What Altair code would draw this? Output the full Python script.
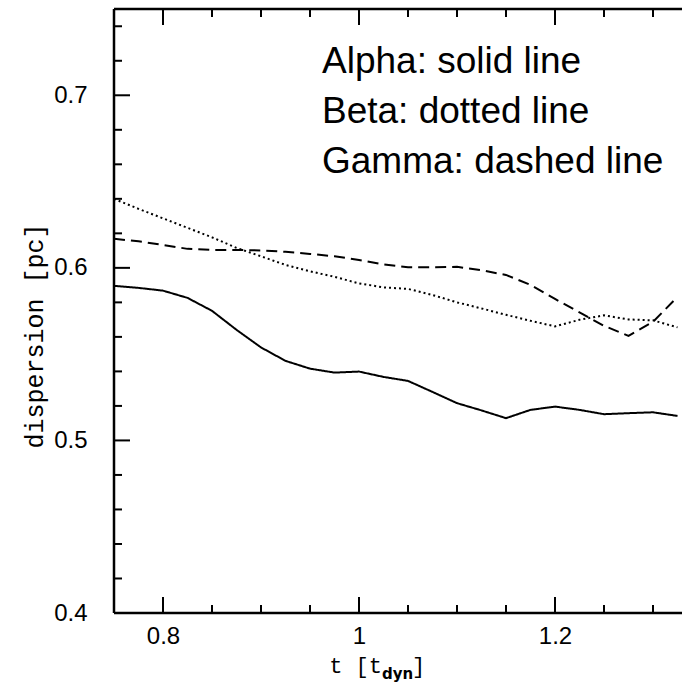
import altair as alt
import pandas as pd

# ---- data ----
T = [0.75, 0.775, 0.8, 0.825, 0.85, 0.875, 0.9, 0.925, 0.95, 0.975, 1.0, 1.025,
     1.05, 1.075, 1.1, 1.125, 1.15, 1.175, 1.2, 1.225, 1.25, 1.275, 1.3, 1.325]
ALPHA = [0.5896, 0.5884, 0.5868, 0.5826, 0.5751, 0.5641, 0.5539, 0.5461, 0.5416, 0.5393,
         0.5399, 0.5368, 0.5345, 0.5281, 0.5216, 0.5174, 0.5129, 0.5177, 0.5196, 0.5177,
         0.5152, 0.5158, 0.5163, 0.5142]
BETA = [0.6400, 0.6342, 0.6287, 0.6232, 0.6177, 0.6116, 0.6067, 0.6017, 0.5980, 0.5948,
        0.5910, 0.5887, 0.5878, 0.5843, 0.5800, 0.5765, 0.5728, 0.5693, 0.5661, 0.5699,
        0.5725, 0.5701, 0.5696, 0.5655]
GAMMA = [0.6168, 0.6154, 0.6133, 0.6110, 0.6104, 0.6104, 0.6101, 0.6093, 0.6081, 0.6067,
         0.6046, 0.6020, 0.6003, 0.6003, 0.6006, 0.5986, 0.5959, 0.5901, 0.5820, 0.5742,
         0.5664, 0.5606, 0.5687, 0.5832]
SERIES = ["Alpha", "Beta", "Gamma"]
LEGEND = ["Alpha: solid line", "Beta: dotted line", "Gamma: dashed line"]

X_MAJOR = [0.8, 1.0, 1.2]
X_MINOR = [0.85, 0.9, 0.95, 1.05, 1.1, 1.15, 1.25, 1.3]
Y_MAJOR = [0.4, 0.5, 0.6, 0.7]
Y_MINOR = [0.42, 0.44, 0.46, 0.48, 0.52, 0.54, 0.56, 0.58, 0.62, 0.64, 0.66, 0.68,
           0.72, 0.74]

W, H = 568, 604
MAJ, MIN = 16, 8

rows = []
for name, vals in zip(SERIES, [ALPHA, BETA, GAMMA]):
    for t, v in zip(T, vals):
        rows.append({"t": t, "v": v, "series": name})
df = pd.DataFrame(rows)

xs = alt.Scale(domain=[0.75, 0.75 + W / 980], nice=False, zero=False)
ys = alt.Scale(domain=[0.4, 0.75], nice=False, zero=False)

LABEL_FONT = "Liberation Sans"
TITLE_FONT = "Liberation Mono"

lines = alt.Chart(df).mark_line(color="black", strokeWidth=2, clip=True).encode(
    x=alt.X("t:Q", scale=xs,
            axis=alt.Axis(values=X_MAJOR, format="~g", ticks=False, domain=False,
                          grid=False, labelFont=LABEL_FONT, labelFontSize=24,
                          labelColor="black", labelPadding=11, title=None)),
    y=alt.Y("v:Q", scale=ys,
            axis=alt.Axis(values=Y_MAJOR, format=".1f", ticks=False, domain=False,
                          grid=False, labelFont=LABEL_FONT, labelFontSize=24,
                          labelColor="black", labelPadding=27, title=None)),
    strokeDash=alt.StrokeDash("series:N",
                              scale=alt.Scale(domain=SERIES,
                                              range=[[1, 0], [2, 3], [11, 6]]),
                              legend=None),
    detail="series:N",
)


def xticks(vals, y0, y1):
    return alt.Chart(pd.DataFrame({"t": vals})).mark_rule(
        color="black", strokeWidth=2).encode(
        x=alt.X("t:Q", scale=xs, axis=None), y=alt.value(y0), y2=alt.value(y1))


def yticks(vals, x0, x1):
    return alt.Chart(pd.DataFrame({"v": vals})).mark_rule(
        color="black", strokeWidth=2).encode(
        y=alt.Y("v:Q", scale=ys, axis=None), x=alt.value(x0), x2=alt.value(x1))


one = pd.DataFrame({"a": [0]})
frame_left = alt.Chart(one).mark_rule(color="black", strokeWidth=2.5).encode(
    x=alt.value(0), y=alt.value(0), y2=alt.value(H))
frame_bottom = alt.Chart(one).mark_rule(color="black", strokeWidth=2.5).encode(
    x=alt.value(0), x2=alt.value(W), y=alt.value(H))
frame_top = alt.Chart(one).mark_rule(color="black", strokeWidth=2.5).encode(
    x=alt.value(0), x2=alt.value(W), y=alt.value(0))

LEGEND_Y = [64, 114, 164]
legend_layers = [
    alt.Chart(one).mark_text(
        text=lab, align="left", baseline="alphabetic", font="Liberation Sans",
        fontSize=37, color="black").encode(x=alt.value(208), y=alt.value(yy))
    for lab, yy in zip(LEGEND, LEGEND_Y)
]

ytitle = alt.Chart(one).mark_text(
    text="dispersion [pc]", angle=270, align="center", baseline="middle",
    font=TITLE_FONT, fontSize=25, color="black").encode(
    x=alt.value(-79), y=alt.value(327))

xt_main = alt.Chart(one).mark_text(
    text="t [t", align="right", baseline="alphabetic",
    font=TITLE_FONT, fontSize=22, color="black").encode(
    x=alt.value(268), y=alt.value(664))
xt_sub = alt.Chart(one).mark_text(
    text="dyn", align="left", baseline="alphabetic",
    font="DejaVu Sans", fontSize=15, fontWeight="bold", color="black").encode(
    x=alt.value(268), y=alt.value(670))
xt_end = alt.Chart(one).mark_text(
    text="]", align="left", baseline="alphabetic",
    font=TITLE_FONT, fontSize=22, color="black").encode(
    x=alt.value(298), y=alt.value(664))

chart = alt.layer(
    lines,
    xticks(X_MAJOR, H, H - MAJ), xticks(X_MINOR, H, H - MIN),
    xticks(X_MAJOR, 0, MAJ), xticks(X_MINOR, 0, MIN),
    yticks(Y_MAJOR, 0, MAJ), yticks(Y_MINOR, 0, MIN),
    frame_left, frame_bottom, frame_top,
    *legend_layers, ytitle, xt_main, xt_sub, xt_end,
).resolve_scale(x="independent", y="independent").properties(
    width=W, height=H,
    autosize=alt.AutoSizeParams(type="none"),
    padding={"left": 114, "top": 9, "right": 0, "bottom": 78},
).configure_view(stroke=None).configure(background="white")

chart.save("out.html", embed_options={"renderer": "svg", "actions": False})
